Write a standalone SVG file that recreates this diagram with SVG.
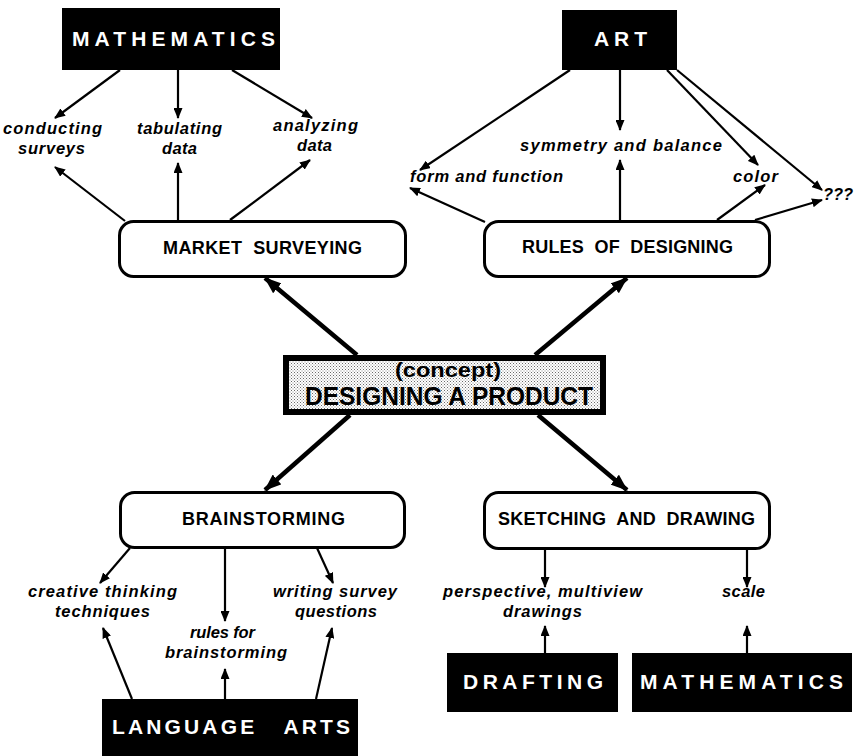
<svg xmlns="http://www.w3.org/2000/svg" width="861" height="756" viewBox="0 0 861 756">
  <style>
    .subject { fill: #000; }
    .subject-text { fill: #fff; font-family: "Liberation Sans", Arial, sans-serif; font-weight: bold; font-size: 21px; }
    .topic { fill: #fff; stroke: #000; stroke-width: 3; }
    .topic-text { fill: #000; font-family: "Liberation Sans", Arial, sans-serif; font-weight: bold; font-size: 18px; }
    .label { fill: #000; font-family: "Liberation Sans", Arial, sans-serif; font-weight: bold; font-style: italic; font-size: 16.5px; }
    .thin { stroke: #000; stroke-width: 2.2; fill: none; marker-end: url(#head); }
    .thick { stroke: #000; stroke-width: 4.5; fill: none; marker-end: url(#bighead); }
    .concept-text { fill: #000; font-family: "Liberation Sans", Arial, sans-serif; font-weight: bold; }
  </style>
  <defs>
    <marker id="head" viewBox="0 0 11 9" refX="10" refY="4.5" markerWidth="11" markerHeight="9" markerUnits="userSpaceOnUse" orient="auto">
      <path d="M0,0 L11,4.5 L0,9 z" fill="#000"/>
    </marker>
    <marker id="bighead" viewBox="0 0 17 13" refX="16" refY="6.5" markerWidth="17" markerHeight="13" markerUnits="userSpaceOnUse" orient="auto">
      <path d="M0,0 L17,6.5 L0,13 z" fill="#000"/>
    </marker>
    <pattern id="stipple" width="3" height="3" patternUnits="userSpaceOnUse">
      <rect width="3" height="3" fill="#ffffff"/>
      <rect x="0" y="0" width="1" height="1" fill="#6a6a6a"/>
      <rect x="1.5" y="1.5" width="1" height="1" fill="#8a8a8a"/>
    </pattern>
  </defs>

  <rect width="861" height="756" fill="#fff"/>

  <!-- connectors -->
  <g id="connectors">
    <line class="thin" x1="120" y1="70" x2="55" y2="118"/>
    <line class="thin" x1="178" y1="70" x2="178" y2="118"/>
    <line class="thin" x1="232" y1="70" x2="312" y2="118"/>
    <line class="thin" x1="125" y1="221" x2="55" y2="167"/>
    <line class="thin" x1="178" y1="220" x2="178" y2="163"/>
    <line class="thin" x1="230" y1="220" x2="310" y2="160"/>

    <line class="thin" x1="570" y1="70" x2="420" y2="170"/>
    <line class="thin" x1="620" y1="70" x2="620" y2="130"/>
    <line class="thin" x1="667" y1="70" x2="758" y2="165"/>
    <line class="thin" x1="677" y1="70" x2="822" y2="190"/>
    <line class="thin" x1="485" y1="222" x2="410" y2="188"/>
    <line class="thin" x1="620" y1="220" x2="620" y2="160"/>
    <line class="thin" x1="717" y1="220" x2="765" y2="185"/>
    <line class="thin" x1="755" y1="220" x2="822" y2="200"/>

    <line class="thin" x1="130" y1="548" x2="100" y2="583"/>
    <line class="thin" x1="225" y1="548" x2="225" y2="621"/>
    <line class="thin" x1="317" y1="548" x2="333" y2="583"/>
    <line class="thin" x1="132" y1="699" x2="103" y2="628"/>
    <line class="thin" x1="225" y1="699" x2="225" y2="669"/>
    <line class="thin" x1="316" y1="699" x2="332" y2="628"/>

    <line class="thin" x1="545" y1="550" x2="545" y2="587"/>
    <line class="thin" x1="747" y1="550" x2="747" y2="587"/>
    <line class="thin" x1="545" y1="653" x2="545" y2="626"/>
    <line class="thin" x1="747" y1="653" x2="747" y2="626"/>

    <line class="thick" x1="357" y1="355" x2="265" y2="278"/>
    <line class="thick" x1="535" y1="355" x2="627" y2="278"/>
    <line class="thick" x1="350" y1="415" x2="265" y2="490"/>
    <line class="thick" x1="538" y1="415" x2="627" y2="490"/>
  </g>

  <!-- subject areas -->
  <g id="math-top">
    <rect class="subject" x="62" y="8" width="218" height="62"/>
    <text class="subject-text" x="72" y="46" textLength="203" lengthAdjust="spacing">MATHEMATICS</text>
  </g>
  <g id="art">
    <rect class="subject" x="562" y="10" width="115" height="60"/>
    <text class="subject-text" x="594" y="46" textLength="53" lengthAdjust="spacing">ART</text>
  </g>
  <g id="language-arts">
    <rect class="subject" x="102" y="699" width="256" height="57"/>
    <text class="subject-text" x="112" y="734" textLength="238" lengthAdjust="spacing" xml:space="preserve">LANGUAGE   ARTS</text>
  </g>
  <g id="drafting">
    <rect class="subject" x="447" y="653" width="171" height="59"/>
    <text class="subject-text" x="463" y="689" textLength="140" lengthAdjust="spacing">DRAFTING</text>
  </g>
  <g id="math-bottom">
    <rect class="subject" x="632" y="653" width="220" height="59"/>
    <text class="subject-text" x="640" y="689" textLength="203" lengthAdjust="spacing">MATHEMATICS</text>
  </g>

  <!-- main topics -->
  <g id="market-surveying">
    <rect class="topic" x="119.5" y="221.5" width="286" height="55" rx="14"/>
    <text class="topic-text" x="163" y="254" textLength="199" lengthAdjust="spacing" xml:space="preserve">MARKET  SURVEYING</text>
  </g>
  <g id="rules-of-designing">
    <rect class="topic" x="484.5" y="221.5" width="285" height="55" rx="14"/>
    <text class="topic-text" x="522" y="253" textLength="211" lengthAdjust="spacing" xml:space="preserve">RULES  OF  DESIGNING</text>
  </g>
  <g id="brainstorming">
    <rect class="topic" x="120.5" y="492.5" width="284" height="55" rx="14"/>
    <text class="topic-text" x="182" y="525" textLength="163" lengthAdjust="spacing">BRAINSTORMING</text>
  </g>
  <g id="sketching-and-drawing">
    <rect class="topic" x="484.5" y="492.5" width="285" height="56" rx="14"/>
    <text class="topic-text" x="498" y="525" textLength="257" lengthAdjust="spacing" xml:space="preserve">SKETCHING  AND  DRAWING</text>
  </g>

  <!-- central concept -->
  <g id="concept">
    <rect x="286" y="358" width="317" height="54" fill="url(#stipple)" stroke="#000" stroke-width="6"/>
    <text class="concept-text" x="395" y="377" font-size="21" textLength="106" lengthAdjust="spacingAndGlyphs">(concept)</text>
    <text class="concept-text" x="305" y="405" font-size="26" textLength="288" lengthAdjust="spacingAndGlyphs">DESIGNING A PRODUCT</text>
  </g>

  <!-- linking ideas -->
  <g id="conducting-surveys">
    <text class="label" x="3" y="134" textLength="99" lengthAdjust="spacing">conducting</text>
    <text class="label" x="18" y="154" textLength="67" lengthAdjust="spacing">surveys</text>
  </g>
  <g id="tabulating-data">
    <text class="label" x="137" y="134" textLength="85" lengthAdjust="spacing">tabulating</text>
    <text class="label" x="162" y="154" textLength="35" lengthAdjust="spacing">data</text>
  </g>
  <g id="analyzing-data">
    <text class="label" x="273" y="131" textLength="85" lengthAdjust="spacing">analyzing</text>
    <text class="label" x="297" y="151" textLength="35" lengthAdjust="spacing">data</text>
  </g>
  <g id="symmetry-and-balance">
    <text class="label" x="520" y="151" textLength="202" lengthAdjust="spacing">symmetry and balance</text>
  </g>
  <g id="form-and-function">
    <text class="label" x="410" y="182" textLength="153" lengthAdjust="spacing">form and function</text>
  </g>
  <g id="color">
    <text class="label" x="733" y="182" textLength="45" lengthAdjust="spacing">color</text>
  </g>
  <g id="unknown">
    <text class="label" x="823" y="200" textLength="30" lengthAdjust="spacing">???</text>
  </g>
  <g id="creative-thinking">
    <text class="label" x="28" y="597" textLength="149" lengthAdjust="spacing">creative thinking</text>
    <text class="label" x="55" y="617" textLength="95" lengthAdjust="spacing">techniques</text>
  </g>
  <g id="writing-survey-questions">
    <text class="label" x="273" y="597" textLength="124" lengthAdjust="spacing">writing survey</text>
    <text class="label" x="295" y="617" textLength="82" lengthAdjust="spacing">questions</text>
  </g>
  <g id="rules-for-brainstorming">
    <text class="label" x="190" y="638" textLength="65" lengthAdjust="spacing">rules for</text>
    <text class="label" x="165" y="658" textLength="122" lengthAdjust="spacing">brainstorming</text>
  </g>
  <g id="perspective-drawings">
    <text class="label" x="443" y="597" textLength="199" lengthAdjust="spacing">perspective, multiview</text>
    <text class="label" x="503" y="617" textLength="79" lengthAdjust="spacing">drawings</text>
  </g>
  <g id="scale">
    <text class="label" x="722" y="597" textLength="43" lengthAdjust="spacing">scale</text>
  </g>
</svg>
